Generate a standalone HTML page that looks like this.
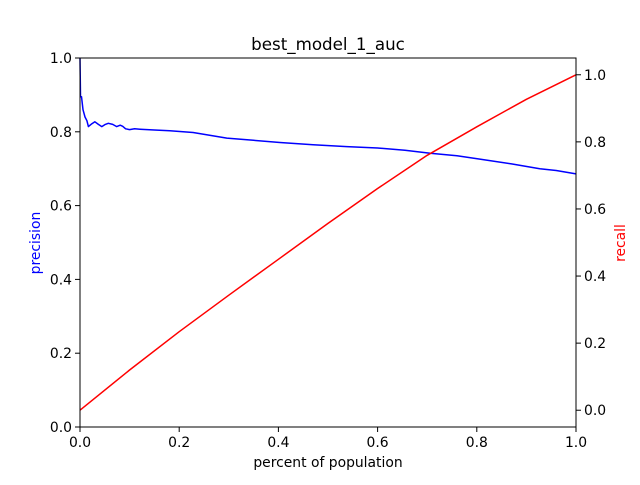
<!DOCTYPE html>
<html><head><meta charset="utf-8"><style>
body{margin:0;background:#fff;font-family:"Liberation Sans","DejaVu Sans",sans-serif}
</style></head><body>
<svg id="chart" width="640" height="480" xmlns="http://www.w3.org/2000/svg" font-family="DejaVu Sans, Liberation Sans, sans-serif">
<rect width="640" height="480" fill="#fff"/>
<g id="plot"></g>
</svg>
<script>
const xTicks=[0,0.2,0.4,0.6,0.8,1.0];
const xTickLabels=["0.0","0.2","0.4","0.6","0.8","1.0"];
const leftTicks=[0,0.2,0.4,0.6,0.8,1.0];
const leftTickLabels=["0.0","0.2","0.4","0.6","0.8","1.0"];
const rightTicks=[0,0.2,0.4,0.6,0.8,1.0];
const rightTickLabels=["0.0","0.2","0.4","0.6","0.8","1.0"];
const precX=[0,0.001,0.003,0.006,0.01,0.014,0.017,0.024,0.03,0.037,0.044,0.051,0.057,0.066,0.074,0.081,0.086,0.092,0.1,0.11,0.121,0.15,0.181,0.228,0.296,0.34,0.403,0.47,0.538,0.6,0.655,0.706,0.76,0.806,0.87,0.927,0.96,1.0];
const precY=[1.0,0.895,0.895,0.86,0.84,0.83,0.814,0.822,0.827,0.82,0.814,0.82,0.823,0.82,0.814,0.818,0.815,0.808,0.806,0.808,0.807,0.805,0.803,0.798,0.783,0.778,0.771,0.765,0.76,0.756,0.75,0.742,0.735,0.726,0.713,0.7,0.695,0.686];
const recX=[0,0.1,0.2,0.3,0.4,0.5,0.6,0.7,0.8,0.9,1.0];
const recY=[0,0.12,0.234,0.343,0.45,0.557,0.661,0.76,0.845,0.927,1.0];
const L=80,R=576,T=58,B=427;
const sx=v=>L+v*(R-L);
const syL=v=>B-v*(B-T);
const syR=v=>B-(v+0.05)/1.1*(B-T);
const NS="http://www.w3.org/2000/svg";
const g=document.getElementById('plot');
function el(t,a,txt){const e=document.createElementNS(NS,t);for(const k in a)e.setAttribute(k,a[k]);if(txt!==undefined)e.textContent=txt;g.appendChild(e);return e;}
function line(xs,ys,fy,col,name){const d=xs.map((x,i)=>(i?'L':'M')+sx(x).toFixed(1)+','+fy(ys[i]).toFixed(1)).join('');const p=el('path',{d:d,fill:'none',stroke:col,'stroke-width':1.5,'stroke-linejoin':'round'});

}
line(precX,precY,syL,'#0000ff','precision-line');
line(recX,recY,syR,'#ff0000','recall-line');
const fr=el('rect',{x:L,y:T,width:R-L,height:B-T,fill:'none',stroke:'#000','stroke-width':1});


xTicks.forEach((v,i)=>{el('line',{x1:sx(v),x2:sx(v),y1:B,y2:B+5,stroke:'#000'});const t=el('text',{x:sx(v),y:B+20,'text-anchor':'middle','font-size':13.9},xTickLabels[i]);

});
leftTicks.forEach((v,i)=>{el('line',{x1:L-5,x2:L,y1:syL(v),y2:syL(v),stroke:'#000'});const t=el('text',{x:L-8,y:syL(v)+5,'text-anchor':'end','font-size':13.9},leftTickLabels[i]);

});
rightTicks.forEach((v,i)=>{el('line',{x1:R,x2:R+5,y1:syR(v),y2:syR(v),stroke:'#000'});const t=el('text',{x:R+8,y:syR(v)+5,'text-anchor':'start','font-size':13.9},rightTickLabels[i]);

});
let t=el('text',{x:328,y:50,'text-anchor':'middle','font-size':16.7},'best_model_1_auc');


t=el('text',{x:328,y:467,'text-anchor':'middle','font-size':13.9},'percent of population');


t=el('text',{x:40,y:243,'text-anchor':'middle','font-size':13.9,fill:'#0000ff',transform:'rotate(-90 40 243)'},'precision');


t=el('text',{x:625,y:243,'text-anchor':'middle','font-size':13.9,fill:'#ff0000',transform:'rotate(-90 625 243)'},'recall');


</script>
</body></html>
